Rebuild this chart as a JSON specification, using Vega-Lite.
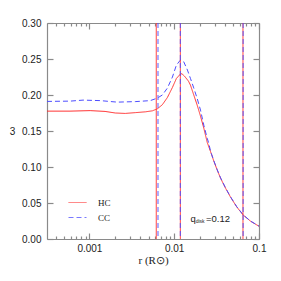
{
  "$schema": "https://vega.github.io/schema/vega-lite/v6.json",
  "autosize": "none",
  "width": 212,
  "height": 216,
  "padding": {"left": 47, "top": 23, "right": 22, "bottom": 42},
  "background": "white",
  "config": {
    "view": {"stroke": null},
    "axis": {"grid": false, "domainColor": "#8a8a8a", "tickColor": "#8a8a8a", "domainWidth": 1.2, "tickWidth": 1.2, "labelColor": "#222", "labelFont": "Liberation Sans", "labelFontSize": 10, "titleFont": "Liberation Serif", "titleFontWeight": "normal", "titleColor": "#222"}
  },
  "datasets": {
    "curves": [
      {"model": "HC", "r": 0.000316, "w": 0.1776},
      {"model": "HC", "r": 0.000591, "w": 0.1776},
      {"model": "HC", "r": 0.00102, "w": 0.1783},
      {"model": "HC", "r": 0.00153, "w": 0.1772},
      {"model": "HC", "r": 0.00202, "w": 0.1750},
      {"model": "HC", "r": 0.00265, "w": 0.1744},
      {"model": "HC", "r": 0.00347, "w": 0.1755},
      {"model": "HC", "r": 0.00456, "w": 0.1766},
      {"model": "HC", "r": 0.00552, "w": 0.1780},
      {"model": "HC", "r": 0.00633, "w": 0.1808},
      {"model": "HC", "r": 0.00725, "w": 0.1865},
      {"model": "HC", "r": 0.00831, "w": 0.1965},
      {"model": "HC", "r": 0.00953, "w": 0.2105},
      {"model": "HC", "r": 0.01062, "w": 0.2230},
      {"model": "HC", "r": 0.01184, "w": 0.2291},
      {"model": "HC", "r": 0.01233, "w": 0.2295},
      {"model": "HC", "r": 0.0132, "w": 0.2263},
      {"model": "HC", "r": 0.01472, "w": 0.2193},
      {"model": "HC", "r": 0.01554, "w": 0.2138},
      {"model": "HC", "r": 0.01687, "w": 0.2013},
      {"model": "HC", "r": 0.01866, "w": 0.1860},
      {"model": "HC", "r": 0.02042, "w": 0.1707},
      {"model": "HC", "r": 0.02234, "w": 0.1540},
      {"model": "HC", "r": 0.0245, "w": 0.1343},
      {"model": "HC", "r": 0.02682, "w": 0.1215},
      {"model": "HC", "r": 0.02934, "w": 0.1081},
      {"model": "HC", "r": 0.03219, "w": 0.0956},
      {"model": "HC", "r": 0.03522, "w": 0.0844},
      {"model": "HC", "r": 0.04035, "w": 0.0705},
      {"model": "HC", "r": 0.04626, "w": 0.0580},
      {"model": "HC", "r": 0.05446, "w": 0.0448},
      {"model": "HC", "r": 0.06537, "w": 0.0330},
      {"model": "HC", "r": 0.07976, "w": 0.0246},
      {"model": "HC", "r": 0.1, "w": 0.0177},
      {"model": "CC", "r": 0.000316, "w": 0.1911},
      {"model": "CC", "r": 0.000591, "w": 0.1915},
      {"model": "CC", "r": 0.000842, "w": 0.1929},
      {"model": "CC", "r": 0.00134, "w": 0.1922},
      {"model": "CC", "r": 0.00213, "w": 0.1901},
      {"model": "CC", "r": 0.00347, "w": 0.1908},
      {"model": "CC", "r": 0.00522, "w": 0.1922},
      {"model": "CC", "r": 0.00633, "w": 0.1957},
      {"model": "CC", "r": 0.00725, "w": 0.2000},
      {"model": "CC", "r": 0.00831, "w": 0.2096},
      {"model": "CC", "r": 0.00953, "w": 0.2249},
      {"model": "CC", "r": 0.01062, "w": 0.2416},
      {"model": "CC", "r": 0.01184, "w": 0.2485},
      {"model": "CC", "r": 0.01295, "w": 0.2462},
      {"model": "CC", "r": 0.01433, "w": 0.2346},
      {"model": "CC", "r": 0.01554, "w": 0.2231},
      {"model": "CC", "r": 0.01687, "w": 0.2110},
      {"model": "CC", "r": 0.01866, "w": 0.1953},
      {"model": "CC", "r": 0.02042, "w": 0.1790},
      {"model": "CC", "r": 0.02234, "w": 0.1581},
      {"model": "CC", "r": 0.0245, "w": 0.1400},
      {"model": "CC", "r": 0.02561, "w": 0.1327},
      {"model": "CC", "r": 0.02682, "w": 0.1220},
      {"model": "CC", "r": 0.02934, "w": 0.1086},
      {"model": "CC", "r": 0.03219, "w": 0.0961},
      {"model": "CC", "r": 0.03522, "w": 0.0849},
      {"model": "CC", "r": 0.04035, "w": 0.0709},
      {"model": "CC", "r": 0.04626, "w": 0.0584},
      {"model": "CC", "r": 0.05446, "w": 0.0451},
      {"model": "CC", "r": 0.06537, "w": 0.0333},
      {"model": "CC", "r": 0.07976, "w": 0.0248},
      {"model": "CC", "r": 0.1, "w": 0.0179}
    ],
    "vlines": [
      {"model": "HC", "r": 0.00615},
      {"model": "HC", "r": 0.01183},
      {"model": "HC", "r": 0.0647},
      {"model": "CC", "r": 0.00644},
      {"model": "CC", "r": 0.01183},
      {"model": "CC", "r": 0.0650}
    ],
    "note_q": [{"r": 0.01555, "w": 0.0274, "t": "q"}],
    "note_disk": [{"r": 0.01790, "w": 0.0246, "t": "disk"}],
    "note_val": [{"r": 0.02372, "w": 0.0274, "t": "=0.12"}]
  },
  "resolve": {"axis": {"x": "independent", "y": "independent"}},
  "layer": [
    {
      "data": {"name": "curves"},
      "mark": {"type": "line", "strokeWidth": 1, "clip": true},
      "encoding": {
        "x": {
          "field": "r", "type": "quantitative",
          "scale": {"type": "log", "domain": [0.00031623, 0.1], "nice": false},
          "axis": {
            "orient": "bottom",
            "title": "r (R⊙)", "titleFontSize": 11, "titlePadding": -2,
            "values": [0.0004,0.0005,0.0006,0.0007,0.0008,0.0009,0.001,0.002,0.003,0.004,0.005,0.006,0.007,0.008,0.009,0.01,0.02,0.03,0.04,0.05,0.06,0.07,0.08,0.09,0.1],
            "labelExpr": "datum.value == 0.001 ? '0.001' : datum.value == 0.01 ? '0.01' : datum.value == 0.1 ? '0.1' : ''",
            "tickSize": {"condition": {"test": "datum.value == 0.001 || datum.value == 0.01 || datum.value == 0.1", "value": -6}, "value": -3},
            "labelPadding": 10,
            "labelFlush": false,
            "labelOverlap": false
          }
        },
        "y": {
          "field": "w", "type": "quantitative",
          "scale": {"domain": [0, 0.3], "nice": false, "zero": false},
          "axis": {
            "orient": "left",
            "values": [0, 0.05, 0.1, 0.15, 0.2, 0.25, 0.3],
            "format": ".2f",
            "tickSize": -6,
            "labelPadding": 12,
            "title": "3", "titleAngle": 0, "titleFontSize": 10, "titleFont": "Liberation Sans",
            "titleAlign": "center", "titleBaseline": "middle", "titleX": -35, "titleY": 108
          }
        },
        "color": {
          "field": "model", "type": "nominal",
          "scale": {"domain": ["HC", "CC"], "range": ["#ff3030", "#4d4dff"]},
          "legend": {
            "orient": "none", "legendX": 21, "legendY": 170, "title": null,
            "symbolType": "stroke", "symbolSize": 324, "symbolStrokeWidth": 1,
            "labelFont": "Liberation Serif", "labelFontSize": 9, "labelColor": "#222",
            "labelOffset": 11, "rowPadding": 0, "padding": 0
          }
        },
        "strokeDash": {
          "field": "model", "type": "nominal",
          "scale": {"domain": ["HC", "CC"], "range": [[1, 0], [5, 3]]},
          "legend": {
            "orient": "none", "legendX": 21, "legendY": 170, "title": null,
            "symbolType": "stroke", "symbolSize": 324, "symbolStrokeWidth": 1,
            "labelFont": "Liberation Serif", "labelFontSize": 9, "labelColor": "#222",
            "labelOffset": 11, "rowPadding": 0, "padding": 0
          }
        }
      }
    },
    {
      "data": {"name": "vlines"},
      "mark": {"type": "rule", "strokeWidth": 1.2, "opacity": 0.75},
      "encoding": {
        "x": {
          "field": "r", "type": "quantitative",
          "axis": {
            "orient": "top", "title": null, "labels": false,
            "values": [0.0004,0.0005,0.0006,0.0007,0.0008,0.0009,0.001,0.002,0.003,0.004,0.005,0.006,0.007,0.008,0.009,0.01,0.02,0.03,0.04,0.05,0.06,0.07,0.08,0.09,0.1],
            "tickSize": {"condition": {"test": "datum.value == 0.001 || datum.value == 0.01 || datum.value == 0.1", "value": -6}, "value": -3}
          }
        },
        "color": {"field": "model", "type": "nominal"},
        "strokeDash": {"field": "model", "type": "nominal"}
      }
    },
    {
      "data": {"name": "note_q"},
      "mark": {"type": "text", "align": "left", "baseline": "middle", "font": "Liberation Sans", "fontSize": 9.5, "color": "#222"},
      "encoding": {
        "x": {"field": "r", "type": "quantitative", "axis": null},
        "y": {
          "field": "w", "type": "quantitative",
          "axis": {"orient": "right", "title": null, "labels": false, "values": [0, 0.05, 0.1, 0.15, 0.2, 0.25, 0.3], "tickSize": -6}
        },
        "text": {"field": "t"}
      }
    },
    {
      "data": {"name": "note_disk"},
      "mark": {"type": "text", "align": "left", "baseline": "middle", "font": "Liberation Sans", "fontSize": 5, "color": "#222"},
      "encoding": {
        "x": {"field": "r", "type": "quantitative", "axis": null},
        "y": {"field": "w", "type": "quantitative", "axis": null},
        "text": {"field": "t"}
      }
    },
    {
      "data": {"name": "note_val"},
      "mark": {"type": "text", "align": "left", "baseline": "middle", "font": "Liberation Sans", "fontSize": 9.5, "color": "#222"},
      "encoding": {
        "x": {"field": "r", "type": "quantitative", "axis": null},
        "y": {"field": "w", "type": "quantitative", "axis": null},
        "text": {"field": "t"}
      }
    }
  ]
}
